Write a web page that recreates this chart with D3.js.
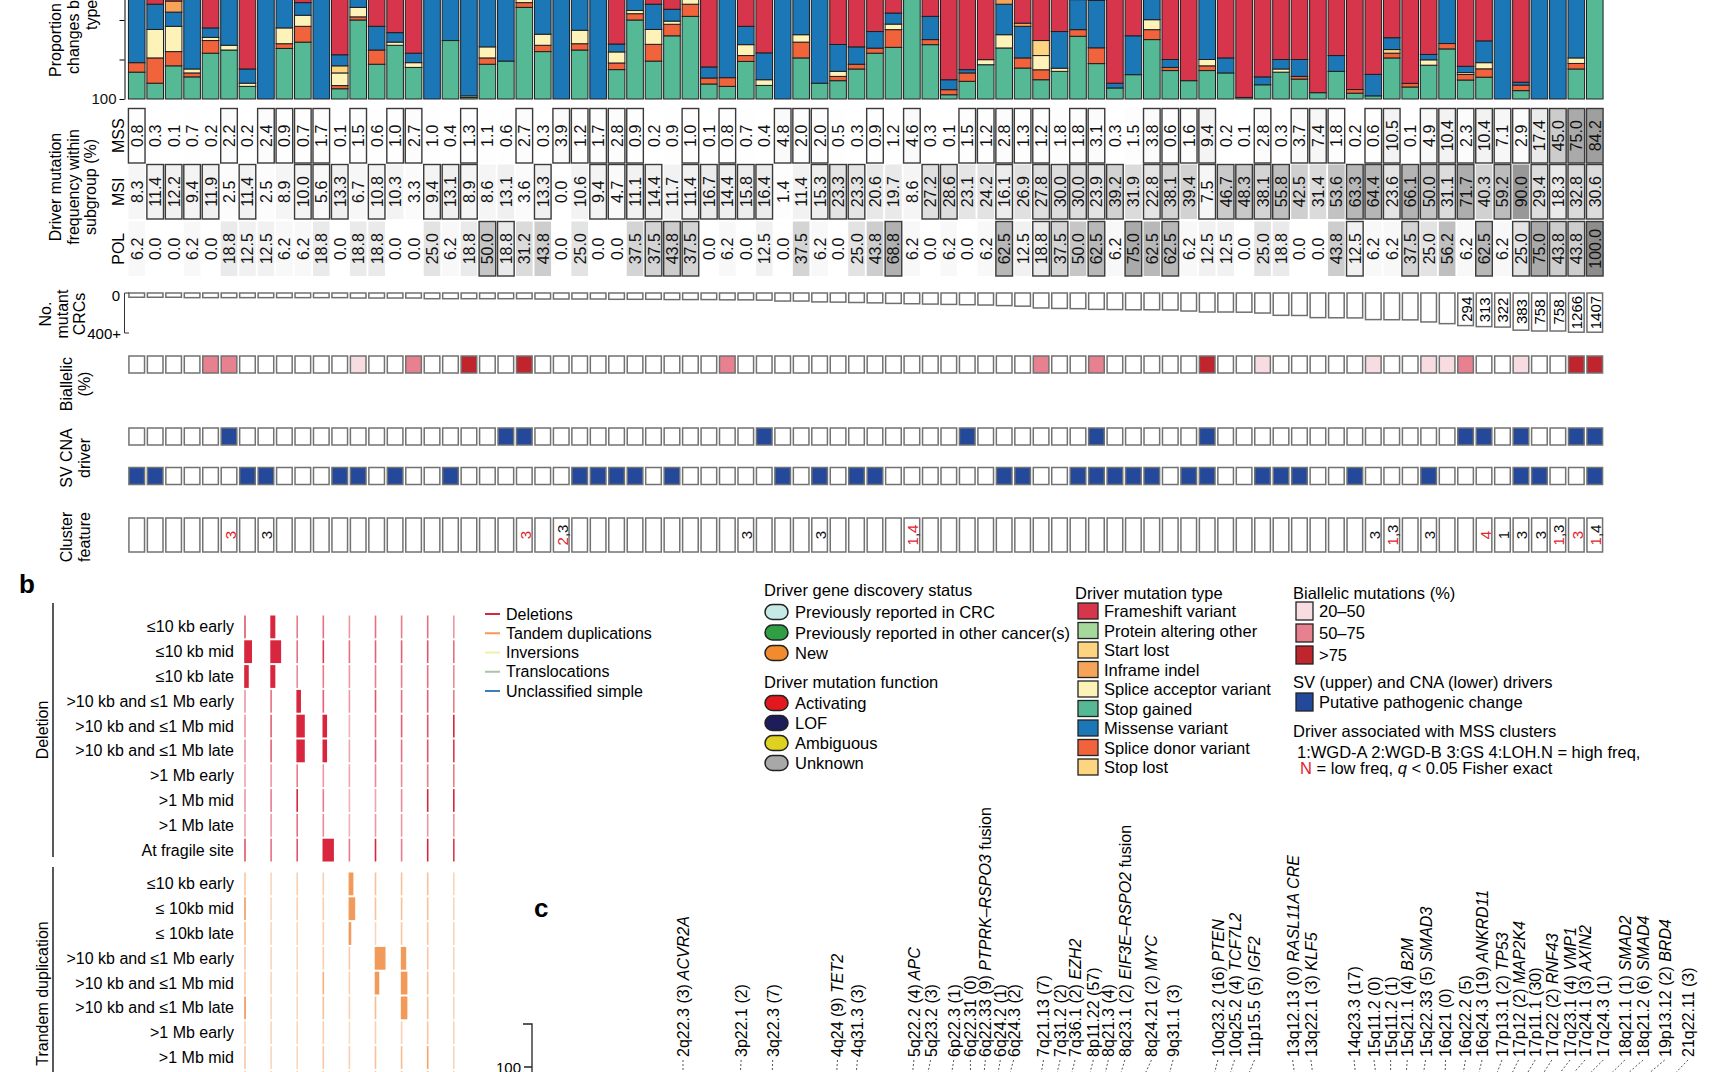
<!DOCTYPE html>
<html>
<head>
<meta charset="utf-8">
<script src="https://cdn.jsdelivr.net/npm/d3@7"></script>
<style>
  body { margin: 0; background: #fff; }
  svg text { font-family: "Liberation Sans", Arial, Helvetica, sans-serif; }
</style>
</head>
<body>
<svg id="chart" width="1736" height="1072"></svg>
<script>
// ---------- panel a data (80 driver columns, left to right) ----------
// share of driver changes by mutation type, counted from the bar base (%)
const stopGained = [17,10,21,14,29,31,8,0,32,36, 0,6.5,50,22,34,20,0,37,1,22, 24,58,30,0,31,0,18.6,50,24,40,
  52.3,9.5,8,23.8,8.6,0,26,10,11.6,19, 29,32.7,100,34.4,2.7,11.2,21.7,32.3,19.6,12.2, 17.5,39.7,22.4,7,15.4,37.6,18,11.6,18,16.5,
  1,9,17,12.6,4,17.5,3.7,2,26,7.6, 21.4,31.7,12,13.8,0,5.3,0,0,19,100];
const spliceDonor = [6,16,9,2.5,8,0,0,0,3,10, 0,2,2,9,0,0,0,0,0,4, 0,3,4,0,4,0,4.2,4,10.6,7.3,
  7.7,3.8,5.5,3.7,0,0,10,0,2.7,3, 3.2,11.2,0,3.2,3.2,5.3,0,0,6.4,6.3, 0,4.2,10,0,0,6.3,2,0,3,0,
  0,0,0,1.7,0,0,2.3,0,3,2.3, 0,3.4,3.5,5.3,0,3.5,0,0,3.5,0];
const spliceAcceptor = [0,18,16,2.5,2,3,2,0,10,7, 0,8,6,0,2,3,0,0,1,7, 0,3,7,0,8.5,0,7,2,9.4,2,
  4,0,0,6.9,3.6,0,4.7,0,3.2,0, 0,3.5,0,0,0,0,3.2,8.4,0,9, 2,0,0,0,0,6.3,0,0,4,0,
  0,0,2,0,0,0,0,0,0,0, 3.4,0,1.2,3.9,0,0,0,0,3.5,0];
const startLost = [0,0,0,0,0,0,0,0,0,0, 0,4.5,0,0,0,0,0,0,0,0, 0,0,0,0,0,0,0,0,0,0,
  0,0,0,0,0,0,0,0,0,0, 0,0,0,0,0,0,0,0,0,9.5, 0,0,0,0,0,0,0,0,0,0,
  0,0,0,0,0,0,0,0,2.3,0, 0,0,0,0,0,0,0,0,0,0];
const missense = [77,16,9,81,6,66,9,100,55,8, 100,7,42,15,6,6,100,63,98,67, 76,36,59,100,56.5,100,5,44,16,7.5,
  36,7,86.5,11.6,17,100,59.3,90,17,11, 10.5,7,0,14.7,6.3,2.1,0,19.3,20,0, 23.2,19,30,3,24.6,49.8,5,0,75,9.5,
  0,5,6,10.7,0,10,0,13.6,7.5,0, 3.4,64.9,4,13.8,100,1.8,100,100,74,0];
const inframe = [0,0,7,0,0,0,0,0,0,0, 0,0,0,0,0,0,0,0,0,0, 0,0,0,0,0,0,0,0,0,0,
  0,0,0,0,0,0,0,0,0,0, 0,0,0,0,0,0,0,4,2,0, 0,0,0,0,0,0,0,0,0,0,
  0,0,0,0,0,0,0,0,0,0, 0,0,0,0,0,0,0,0,0,0];
const frameshift = [0,40,38,0,55,0,81,0,0,39, 0,72,0,54,58,71,0,0,0,0, 0,0,0,0,0,0,65.2,0,40,43.2,
  0,79.7,0,54,70.8,0,0,0,65.5,67, 57.3,45.6,0,47.7,87.8,81.4,75.1,36,52,63, 57.3,37.1,37.6,90,60,0,75,88.4,0,74,
  99,86,75,75,96,72.5,94,84.4,61.2,90.1, 71.8,0,79.3,63.2,0,89.4,0,0,0,0];

// driver mutation frequency within subgroup (%), 1 = boxed (significant)
const mssFreq = [0.8,0.3,0.1,0.7,0.2,2.2,0.2,2.4,0.9,0.7, 1.7,0.1,1.5,0.6,1.0,2.7,1.0,0.4,1.3,1.1,
  0.6,2.7,0.3,3.9,1.2,1.7,2.8,0.9,0.2,0.9, 1.0,0.1,0.8,0.7,0.4,4.8,2.0,2.0,0.5,0.3,
  0.9,1.2,4.6,0.3,0.1,1.5,1.2,2.8,1.3,1.2, 1.8,1.8,3.1,0.3,1.5,3.8,0.6,1.6,9.4,0.2,
  0.1,2.8,0.3,3.7,7.4,1.8,0.2,0.6,10.5,0.1, 4.9,10.4,2.3,10.4,7.1,2.9,17.4,45.0,75.0,84.2];
const mssBoxed = [1,0,0,0,0,1,0,1,1,1, 1,0,1,0,1,1,0,0,1,0, 0,1,0,1,1,1,1,1,0,0, 1,0,1,0,0,1,1,1,0,0,
  1,0,1,0,0,1,1,1,1,1, 0,1,1,0,0,1,1,1,1,0, 0,1,0,1,1,1,0,1,1,0, 1,1,1,1,1,1,1,1,1,1];
const msiFreq = [8.3,11.4,12.2,9.4,11.9,2.5,11.4,2.5,8.9,10.0, 5.6,13.3,6.7,10.8,10.3,3.3,9.4,13.1,8.9,8.6,
  13.1,3.6,13.3,0.0,10.6,9.4,4.7,11.1,14.4,11.7, 11.4,16.7,14.4,15.8,16.4,1.4,11.4,15.3,23.3,23.3,
  20.6,19.7,8.6,27.2,28.6,23.1,24.2,16.1,26.9,27.8, 30.0,30.0,23.9,39.2,31.9,22.8,38.1,39.4,7.5,46.7,
  48.3,38.1,55.8,42.5,31.4,53.6,63.3,64.4,23.6,66.1, 50.0,31.1,71.7,40.3,59.2,90.0,29.4,18.3,32.8,30.6];
const msiBoxed = [0,1,1,1,1,0,1,0,0,1, 1,1,0,1,0,0,1,1,1,0, 0,0,1,0,0,1,1,1,1,0, 1,1,1,1,1,0,0,1,1,1,
  0,0,0,1,1,0,0,1,0,1, 1,1,1,1,0,1,1,0,1,1, 1,1,1,0,0,0,1,1,1,1, 1,1,1,0,1,0,1,1,1,1];
const polFreq = [6.2,0.0,0.0,6.2,0.0,18.8,12.5,12.5,6.2,6.2, 18.8,0.0,18.8,18.8,0.0,0.0,25.0,6.2,18.8,50.0,
  18.8,31.2,43.8,0.0,25.0,0.0,0.0,37.5,37.5,43.8, 37.5,0.0,6.2,0.0,12.5,0.0,37.5,6.2,0.0,25.0,
  43.8,68.8,6.2,0.0,6.2,0.0,6.2,62.5,12.5,18.8, 37.5,50.0,62.5,6.2,75.0,62.5,62.5,6.2,12.5,12.5,
  0.0,25.0,18.8,0.0,0.0,43.8,12.5,6.2,6.2,37.5, 25.0,56.2,6.2,62.5,6.2,25.0,75.0,43.8,43.8,100.0];
const polBoxed = [0,0,0,0,0,0,0,0,0,0, 0,0,0,0,0,0,0,0,0,1, 1,0,0,0,0,0,0,0,1,1, 1,0,0,0,0,0,0,0,0,0,
  0,1,0,0,0,0,0,1,0,1, 1,0,1,0,1,0,1,0,0,0, 0,0,0,0,0,0,1,0,0,1, 0,0,0,1,0,1,1,1,1,1];

// number of mutant CRCs
const mutantCounts = [5,5,5,6,6,6,6,6,6,6, 6,6,7,7,7,7,9,9,9,9, 9,9,10,10,10,10,11,11,11,12,
  12,12,13,13,14,18,18,22,23,25, 27,30,32,34,36,38,40,44,48,62, 66,68,74,76,78,78,80,90,100,100,
  102,111,138,140,168,170,172,196,198,200, 232,260,294,313,322,383,758,758,1266,1407];
// biallelic class: 0 none, 1 20-50, 2 50-75, 3 >75
const biallelic = [0,0,0,0,2,2,0,0,0,0, 0,0,1,0,0,2,0,0,3,0, 0,3,0,0,0,0,0,0,0,0, 0,0,2,0,0,0,0,0,0,0,
  0,0,0,0,0,0,0,0,0,2, 0,0,2,0,0,0,0,0,3,0, 0,1,0,0,0,0,0,1,0,0, 1,1,2,0,0,1,0,0,3,3];
const svDriver = [0,0,0,0,0,1,0,0,0,0, 0,0,0,0,0,0,0,0,0,0, 1,1,0,0,0,0,0,0,0,0, 0,0,0,0,1,0,0,0,0,0,
  0,0,0,0,0,1,0,0,0,0, 0,0,1,0,0,0,0,0,1,0, 0,0,0,0,0,0,0,0,0,0, 0,0,1,1,0,1,0,0,1,1];
const cnaDriver = [1,1,0,0,0,0,1,1,0,0, 0,1,1,0,1,0,0,1,0,0, 0,0,0,0,1,1,1,1,0,1, 0,0,0,0,0,1,0,1,0,1,
  1,0,0,0,0,0,0,1,1,0, 0,1,1,1,1,1,0,1,1,0, 0,1,1,1,0,0,1,0,0,0, 1,0,0,0,0,1,1,0,0,1];
// MSS cluster association: H = high freq (black), L = low freq (red)
const clusterFeature = ["","","","","","L3","","H3","","", "","","","","","","","","","", "","L3","","L2,H3","","","","","","",
  "","","","H3","","","","H3","","", "","","L1,L4","","","","","","","", "","","","","","","","","","",
  "","","","","","","","H3","L1,H3","", "H3","","","L4","H1","H3","H3","L1,H3","L3","L1,H4"];

// ---------- panel b data ----------
const svTypes = ["Deletions", "Tandem duplications", "Inversions", "Translocations", "Unclassified simple"];
const delRows = ["\u226410 kb early", "\u226410 kb mid", "\u226410 kb late", ">10 kb and \u22641 Mb early",
  ">10 kb and \u22641 Mb mid", ">10 kb and \u22641 Mb late", ">1 Mb early", ">1 Mb mid", ">1 Mb late", "At fragile site"];
const tdRows = ["\u226410 kb early", "\u2264 10kb mid", "\u2264 10kb late", ">10 kb and \u22641 Mb early",
  ">10 kb and \u22641 Mb mid", ">10 kb and \u22641 Mb late", ">1 Mb early", ">1 Mb mid", ">1 Mb late"];
const delValues = [
  [0.08,0.42,0.05,0.06,0.03,0.06,0.05,0.06,0.03],
  [0.65,0.90,0.06,0.10,0.06,0.07,0.07,0.08,0.06],
  [0.38,0.42,0.04,0.05,0.03,0.05,0.05,0.06,0.04],
  [0.03,0.06,0.38,0.07,0.03,0.08,0.06,0.07,0.05],
  [0.03,0.07,0.70,0.38,0.01,0.06,0.07,0.08,0.12],
  [0.03,0.07,0.70,0.38,0.02,0.07,0.06,0.08,0.10],
  [0.02,0.03,0.05,0.03,0.02,0.04,0.04,0.05,0.05],
  [0.03,0.05,0.12,0.05,0.01,0.02,0.04,0.12,0.12],
  [0.02,0.03,0.06,0.04,0.01,0.03,0.03,0.03,0.03],
  [0.08,0.06,0.08,0.95,0.05,0.12,0.05,0.12,0.10]];
const tdValues = [
  [0.04,0.02,0.03,0.03,0.40,0.05,0.05,0.05,0.02],
  [0.12,0.02,0.03,0.03,0.55,0.05,0.05,0.05,0.02],
  [0.06,0.02,0.02,0.03,0.22,0.02,0.04,0.04,0.02],
  [0.04,0.02,0.02,0.03,0.04,0.90,0.45,0.04,0.02],
  [0.04,0.02,0.02,0.08,0.03,0.38,0.55,0.05,0.02],
  [0.14,0.02,0.02,0.05,0.03,0.06,0.55,0.05,0.02],
  [0.03,0.02,0.02,0.03,0.01,0.03,0.03,0.04,0.02],
  [0.04,0.02,0.02,0.04,0.03,0.05,0.06,0.10,0.02],
  [0.03,0.02,0.02,0.03,0.02,0.03,0.04,0.05,0.02]];

// ---------- panel c data ----------
const cLoci = ["2q22.3 (3)","3p22.1 (2)","3q22.3 (7)","4q24 (9)","4q31.3 (3)","5q22.2 (4)","5q23.2 (3)","6p22.3 (1)",
  "6q22.31 (0)","6q22.33 (9)","6q24.2 (1)","6q24.3 (2)","7q21.13 (7)","7q31.2 (2)","7q36.1 (2)","8p11.22 (57)",
  "8q21.3 (4)","8q23.1 (2)","8q24.21 (2)","9q31.1 (3)","10q23.2 (16)","10q25.2 (4)","11p15.5 (5)","13q12.13 (0)",
  "13q22.1 (3)","14q23.3 (17)","15q11.2 (0)","15q11.2 (1)","15q21.1 (4)","15q22.33 (5)","16q21 (0)","16q22.2 (5)",
  "16q24.3 (19)","17p13.1 (2)","17p12 (2)","17p11.1 (30)","17q22 (2)","17q23.1 (4)","17q24.1 (3)","17q24.3 (1)",
  "18q21.1 (1)","18q21.2 (6)","19p13.12 (2)","21q22.11 (3)"];
const cGenes = ["ACVR2A","","","TET2","","APC","","", "","PTPRK\u2013RSPO3","","","","","EZH2","",
  "","EIF3E\u2013RSPO2","MYC","","PTEN","TCF7L2","IGF2","RASL11A CRE", "KLF5","","","","B2M","SMAD3","","",
  "ANKRD11","TP53","MAP2K4","","RNF43","VMP1","AXIN2","", "SMAD2","SMAD4","BRD4",""];
const cFusion = [9, 17];
// label slot along the track, and approximate genome position (cumulative Mb)
const cSlot = [0,3.5,5.4,9.3,10.5,13.9,14.9,16.3, 17.3,18.2,19.1,19.9,21.7,22.7,23.6,24.7,
  25.6,26.6,28.2,29.5,32.2,33.2,34.4,36.7, 37.8,40.4,41.6,42.6,43.6,44.7,45.9,47.1,
  48.1,49.3,50.3,51.3,52.3,53.4,54.3,55.4, 56.7,57.8,59.1,60.5];
const cGenome = [397,534,629,796,843,993,1005,1082, 1186,1190,1205,1209,1323,1349,1381,1430,
  1482,1501,1520,1643,1768,1793,1817,2110, 2157,2265,2328,2329,2350,2373,2473,2480,
  2498,2506,2511,2523,2555,2556,2562,2568, 2625,2628,2673,2814];

// ---------- colours ----------
const typeKeys = ["stopGained","spliceDonor","spliceAcceptor","startLost","missense","inframe","frameshift"];
const typeSeries = {stopGained, spliceDonor, spliceAcceptor, startLost, missense, inframe, frameshift};
const typeColor = {stopGained: "#56b996", spliceDonor: "#f1643b", spliceAcceptor: "#fdf2b8", startLost: "#fdd480",
  missense: "#1c77b6", inframe: "#f5a45a", frameshift: "#d6354b"};
const biallelicColor = ["#ffffff", "#f7dde2", "#e8818f", "#c0242c"];
const svColor = ["#d7263d", "#f29a59", "#eef0a8", "#a9c4a6", "#3a7fb8"];
const driverBlue = "#24499a";
const lowRed = "#e3242b";

const svg = d3.select("#chart");
const cols = d3.range(mssFreq.length);
const x = d3.scaleBand().domain(cols).range([127.5, 1604]).paddingInner(0.1).paddingOuter(0.05);
const bw = x.bandwidth();

function vLabel(lines, cx, cy, gap, size) {
  const g = svg.append("g");
  lines.forEach((line, j) => {
    const tx = cx + (j - (lines.length - 1) / 2) * gap;
    g.append("text").attr("transform", `translate(${tx},${cy}) rotate(-90)`)
      .attr("text-anchor", "middle").attr("dominant-baseline", "central")
      .attr("font-size", size).text(line);
  });
}

// ---------- stacked bars ----------
const stackRows = cols.map(i => {
  const r = {col: i};
  typeKeys.forEach(k => r[k] = typeSeries[k][i]);
  return r;
});
const stacked = d3.stack().keys(typeKeys)(stackRows);
const yProp = d3.scaleLinear().domain([0, 100]).range([99, -59]);

svg.append("g").selectAll("g").data(stacked).join("g")
    .attr("fill", s => typeColor[s.key])
  .selectAll("rect").data(s => s.filter(d => d[1] > d[0])).join("rect")
    .attr("x", d => x(d.data.col))
    .attr("width", bw)
    .attr("y", d => yProp(d[1]))
    .attr("height", d => yProp(d[0]) - yProp(d[1]))
    .attr("stroke", "#1e1e1e")
    .attr("stroke-width", 1);

const yAxisScale = d3.scaleLinear().domain([0, 100]).range([-59, 99]);
const yAxis = svg.append("g").attr("transform", "translate(124.5,0)")
  .call(d3.axisLeft(yAxisScale).tickValues([0, 25, 50, 75, 100]).tickSize(5).tickSizeOuter(0)
    .tickFormat(d => d === 100 ? "100" : ""));
yAxis.attr("font-family", null).attr("font-size", 15);
yAxis.selectAll("text").attr("fill", "#111");

// axis title, cut by the top edge as in the figure
[["Proportion of driver", 55, 77], ["changes by mutation", 73, 74], ["type (%)", 91, 30]].forEach(([s, tx, ty]) => {
  svg.append("text").attr("transform", `translate(${tx},${ty}) rotate(-90)`)
    .attr("dominant-baseline", "central").attr("font-size", 16).text(s);
});

// ---------- frequency rows ----------
const grey = d3.scaleLinear().domain([0, 100]).range(["#ffffff", "#8d8d8d"]);
const freqRows = [
  {label: "MSS", values: mssFreq, boxed: mssBoxed, top: 108.5},
  {label: "MSI", values: msiFreq, boxed: msiBoxed, top: 164.5},
  {label: "POL", values: polFreq, boxed: polBoxed, top: 221.5}
];
const rowH = 54.5;
freqRows.forEach(row => {
  const g = svg.append("g");
  g.selectAll("rect").data(row.values).join("rect")
    .attr("x", (v, i) => x(i)).attr("y", row.top)
    .attr("width", bw).attr("height", rowH)
    .attr("fill", v => grey(v))
    .attr("stroke", (v, i) => row.boxed[i] ? "#3a3a3a" : "none")
    .attr("stroke-width", 1.4);
  g.selectAll("text").data(row.values).join("text")
    .attr("transform", (v, i) => `translate(${x(i) + bw / 2 + 0.5},${row.top + rowH / 2}) rotate(-90)`)
    .attr("text-anchor", "middle").attr("dominant-baseline", "central")
    .attr("font-size", 16).attr("fill", "#111")
    .text(v => v.toFixed(1));
  svg.append("text").attr("transform", `translate(118,${row.top + rowH / 2}) rotate(-90)`)
    .attr("text-anchor", "middle").attr("dominant-baseline", "central")
    .attr("font-size", 16).text(row.label);
});
vLabel(["Driver mutation", "frequency within", "subgroup (%)"], 73, 187, 17.5, 16);

// ---------- number of mutant CRCs ----------
const mutTop = 293;
const mutScale = d3.scaleSqrt().domain([0, 400]).range([0, 38]).clamp(true);
const mutLabelled = c => c > 290;
const mutH = c => Math.max(mutScale(c), mutLabelled(c) ? String(c).length * 8.3 + 6 : 0);
const mutG = svg.append("g");
mutG.selectAll("rect").data(mutantCounts).join("rect")
  .attr("x", (c, i) => x(i) + 0.5).attr("y", mutTop)
  .attr("width", bw - 1).attr("height", c => mutH(c))
  .attr("fill", "#fff").attr("stroke", "#6f6f6f").attr("stroke-width", 1.5);
mutG.selectAll("text").data(mutantCounts.map((c, i) => ({c, i})).filter(d => mutLabelled(d.c))).join("text")
  .attr("transform", d => `translate(${x(d.i) + bw / 2 + 0.5},${mutTop + mutH(d.c) / 2}) rotate(-90)`)
  .attr("text-anchor", "middle").attr("dominant-baseline", "central")
  .attr("font-size", 15).text(d => d.c);
svg.append("path").attr("d", `M129,${mutTop}H124.5V${mutTop + 40}H129`)
  .attr("fill", "none").attr("stroke", "#333").attr("stroke-width", 1);
svg.append("text").attr("x", 120).attr("y", mutTop + 2).attr("text-anchor", "end")
  .attr("dominant-baseline", "central").attr("font-size", 15).text("0");
svg.append("text").attr("x", 121).attr("y", mutTop + 40).attr("text-anchor", "end")
  .attr("dominant-baseline", "central").attr("font-size", 15).text("400+");
vLabel(["No.", "mutant", "CRCs"], 62, 314, 17, 16);

// ---------- biallelic, SV / CNA drivers, cluster feature ----------
function flagRow(values, top, h, fill) {
  svg.append("g").selectAll("rect").data(values).join("rect")
    .attr("x", (v, i) => x(i) + 0.5).attr("y", top)
    .attr("width", bw - 1).attr("height", h)
    .attr("fill", fill).attr("stroke", "#727272").attr("stroke-width", 1.5);
}
flagRow(biallelic, 356, 17, v => biallelicColor[v]);
flagRow(svDriver, 428, 17, v => v ? driverBlue : "#fff");
flagRow(cnaDriver, 467.5, 17, v => v ? driverBlue : "#fff");
flagRow(clusterFeature, 518, 34, () => "#fff");

const clusterG = svg.append("g");
clusterFeature.forEach((s, i) => {
  if (!s) return;
  const t = clusterG.append("text")
    .attr("transform", `translate(${x(i) + bw / 2 + 0.5},535) rotate(-90)`)
    .attr("text-anchor", "middle").attr("dominant-baseline", "central").attr("font-size", 15);
  s.split(",").forEach((p, k) => {
    if (k) t.append("tspan").attr("fill", "#111").text(",");
    t.append("tspan").attr("fill", p[0] === "L" ? lowRed : "#111").text(p.slice(1));
  });
});
vLabel(["Biallelic", "(%)"], 75, 384, 18, 16);
vLabel(["SV CNA", "driver"], 75, 458, 18, 16);
vLabel(["Cluster", "feature"], 75, 537, 18, 16);

// ---------- panel b ----------
svg.append("text").attr("x", 19).attr("y", 593).attr("font-size", 26).attr("font-weight", "bold").text("b");

const heatX = d3.scaleBand().domain(d3.range(9)).range([245, 245 + 26.1 * 9]);
const delY = d3.scaleBand().domain(d3.range(delRows.length)).range([614.5, 614.5 + 24.8 * delRows.length]);
const tdY = d3.scaleBand().domain(d3.range(tdRows.length)).range([871.5, 871.5 + 24.8 * tdRows.length]);
const cellW = v => Math.max(1.6, v * 12);
const cellOpacity = v => Math.min(1, 0.3 + v * 6);

function heatGroup(rows, values, yScale, color, name, lineTop, lineBottom) {
  const g = svg.append("g");
  g.selectAll("text.row").data(rows).join("text")
    .attr("class", "row")
    .attr("x", 234).attr("y", (r, i) => yScale(i) + yScale.bandwidth() / 2)
    .attr("text-anchor", "end").attr("dominant-baseline", "central")
    .attr("font-size", 16).text(r => r);
  values.forEach((rowVals, r) => {
    g.append("g").selectAll("rect").data(rowVals).join("rect")
      .attr("x", (v, j) => heatX(j) - 0.8)
      .attr("y", yScale(r) + 1)
      .attr("width", v => cellW(v))
      .attr("height", yScale.bandwidth() - 2)
      .attr("fill", color)
      .attr("fill-opacity", v => cellOpacity(v));
  });
  g.append("line").attr("x1", 53).attr("x2", 53).attr("y1", lineTop).attr("y2", lineBottom)
    .attr("stroke", "#222").attr("stroke-width", 1.5);
  g.append("text").attr("transform", `translate(42,${(lineTop + lineBottom) / 2}) rotate(-90)`)
    .attr("text-anchor", "middle").attr("dominant-baseline", "central")
    .attr("font-size", 16).text(name);
}
heatGroup(delRows, delValues, delY, svColor[0], "Deletion", 603, 857);
heatGroup(tdRows, tdValues, tdY, svColor[1], "Trandem duplication", 867, 1120);

const svLegendY = d3.scalePoint().domain(svTypes).range([614, 691]);
const svLegend = svg.append("g");
svLegend.selectAll("line").data(svTypes).join("line")
  .attr("x1", 485).attr("x2", 500)
  .attr("y1", d => svLegendY(d)).attr("y2", d => svLegendY(d))
  .attr("stroke", (d, i) => svColor[i]).attr("stroke-width", 2);
svLegend.selectAll("text").data(svTypes).join("text")
  .attr("x", 506).attr("y", d => svLegendY(d))
  .attr("dominant-baseline", "central").attr("font-size", 16).text(d => d);

// ---------- legends ----------
const legend = svg.append("g").attr("font-size", 16.5);
function title(tx, ty, s) {
  legend.append("text").attr("x", tx).attr("y", ty).attr("dominant-baseline", "central").text(s);
}
function pill(tx, ty, fill, label) {
  legend.append("rect").attr("x", tx).attr("y", ty - 7.5).attr("width", 23).attr("height", 15).attr("rx", 7.5)
    .attr("fill", fill).attr("stroke", "#222").attr("stroke-width", 1.5);
  legend.append("text").attr("x", tx + 30).attr("y", ty).attr("dominant-baseline", "central").text(label);
}
function swatch(tx, ty, w, h, fill, label) {
  legend.append("rect").attr("x", tx).attr("y", ty - h / 2).attr("width", w).attr("height", h)
    .attr("fill", fill).attr("stroke", "#222").attr("stroke-width", 1.3);
  legend.append("text").attr("x", tx + w + 6).attr("y", ty).attr("dominant-baseline", "central").text(label);
}

title(764, 590, "Driver gene discovery status");
[["#c6e9e5", "Previously reported in CRC"], ["#2f9e44", "Previously reported in other cancer(s)"], ["#f28a2e", "New"]]
  .forEach((d, i) => pill(765, 612 + i * 20.5, d[0], d[1]));
title(764, 682, "Driver mutation function");
[["#e3181f", "Activating"], ["#1d1d59", "LOF"], ["#dcd21f", "Ambiguous"], ["#a8a8a8", "Unknown"]]
  .forEach((d, i) => pill(765, 703 + i * 20, d[0], d[1]));

title(1075, 593, "Driver mutation type");
[["#d6354b", "Frameshift variant"], ["#a6d89b", "Protein altering other"], ["#fdd480", "Start lost"],
 ["#f5a45a", "Inframe indel"], ["#fdf2b8", "Splice acceptor variant"], ["#56b996", "Stop gained"],
 ["#1c77b6", "Missense variant"], ["#f1643b", "Splice donor variant"], ["#fdd480", "Stop lost"]]
  .forEach((d, i) => swatch(1078, 611 + i * 19.5, 20, 16, d[0], d[1]));

title(1293, 593, "Biallelic mutations (%)");
[["20\u201350", 1], ["50\u201375", 2], [">75", 3]]
  .forEach((d, i) => swatch(1296, 611 + i * 22, 17, 18, biallelicColor[d[1]], d[0]));

title(1293, 682, "SV (upper) and CNA (lower) drivers");
swatch(1296, 702, 17, 18, driverBlue, "Putative pathogenic change");

title(1293, 731, "Driver associated with MSS clusters");
legend.append("text").attr("x", 1297).attr("y", 752).attr("dominant-baseline", "central")
  .text("1:WGD-A 2:WGD-B 3:GS 4:LOH.N = high freq,");
const lowNote = legend.append("text").attr("x", 1300).attr("y", 768).attr("dominant-baseline", "central");
lowNote.append("tspan").attr("fill", lowRed).text("N");
lowNote.append("tspan").text(" = low freq, ");
lowNote.append("tspan").attr("font-style", "italic").text("q");
lowNote.append("tspan").text(" < 0.05 Fisher exact");

// ---------- panel c ----------
svg.append("text").attr("x", 534).attr("y", 917).attr("font-size", 26).attr("font-weight", "bold").text("c");
svg.append("path").attr("d", "M523,1024H532V1090M524,1067H532")
  .attr("fill", "none").attr("stroke", "#222").attr("stroke-width", 1.3);
svg.append("text").attr("x", 521).attr("y", 1067).attr("text-anchor", "end")
  .attr("dominant-baseline", "central").attr("font-size", 15).text("100");

const slotX = d3.scaleLinear().domain([0, 60.5]).range([683, 1688]);
const genomeX = d3.scaleLinear().domain([0, 2879]).range([538, 1591]);
const cG = svg.append("g");
cLoci.forEach((loc, i) => {
  const lx = slotX(cSlot[i]);
  cG.append("line").attr("x1", lx).attr("y1", 1060).attr("x2", genomeX(cGenome[i])).attr("y2", 1185)
    .attr("stroke", "#555").attr("stroke-width", 1).attr("stroke-dasharray", "2,2");
  const t = cG.append("text").attr("transform", `translate(${lx},1057) rotate(-90)`)
    .attr("dominant-baseline", "central").attr("font-size", 16);
  t.append("tspan").text(loc);
  if (cGenes[i]) t.append("tspan").attr("font-style", "italic").text(" " + cGenes[i]);
  if (cFusion.includes(i)) t.append("tspan").text(" fusion");
});
</script>
</body>
</html>
